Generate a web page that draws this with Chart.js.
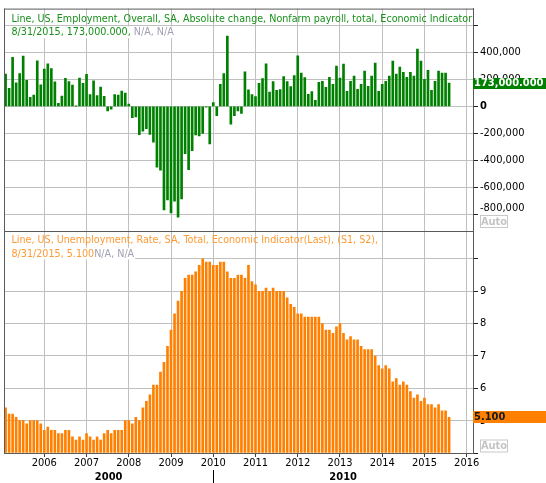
<!DOCTYPE html>
<html>
<head>
<meta charset="utf-8">
<script src="https://cdn.jsdelivr.net/npm/chart.js@4.4.0/dist/chart.umd.min.js"></script>
<style>
html,body{margin:0;padding:0;background:#ffffff;}
#wrap{width:546px;height:483px;position:relative;}
</style>
</head>
<body>
<div id="wrap"><canvas id="c" width="546" height="483"></canvas></div>
<script>
// ---------------- DATA ----------------
// first plotted month (monthly series, one value per month)
const firstMonth = { year: 2005, month: 2 };

// US nonfarm payroll, absolute monthly change (persons), Feb 2005 .. Aug 2015
const payrollChange = [
  239000, 134000, 363000, 175000, 244000, 373000, 193000, 67000, 84000, 337000, 159000,
  277000, 315000, 280000, 182000, 23000, 77000, 207000, 184000, 157000, 2000, 210000, 171000,
  238000, 88000, 190000, 80000, 143000, 75000, -34000, -20000, 88000, 84000, 114000, 98000,
  17000, -84000, -78000, -210000, -185000, -165000, -209000, -266000, -452000, -473000, -769000, -695000,
  -791000, -703000, -823000, -686000, -351000, -470000, -329000, -212000, -219000, -200000, -7000, -279000,
  28000, -69000, 163000, 243000, 522000, -133000, -70000, -34000, -52000, 257000, 123000, 88000,
  73000, 171000, 206000, 316000, 105000, 184000, 118000, 125000, 220000, 184000, 147000, 228000,
  375000, 246000, 214000, 89000, 109000, 45000, 179000, 186000, 142000, 216000, 164000, 298000,
  209000, 313000, 112000, 186000, 224000, 127000, 164000, 261000, 149000, 224000, 321000, 112000,
  164000, 186000, 224000, 335000, 239000, 291000, 253000, 216000, 253000, 224000, 425000, 335000,
  201000, 268000, 119000, 186000, 261000, 246000, 246000, 173000
];

// US unemployment rate (%), Feb 2005 .. Aug 2015
const unemploymentRate = [
  5.4, 5.2, 5.2, 5.1, 5.0, 5.0, 4.9, 5.0, 5.0, 5.0, 4.9,
  4.7, 4.8, 4.7, 4.7, 4.6, 4.6, 4.7, 4.7, 4.5, 4.4, 4.5, 4.4,
  4.6, 4.5, 4.4, 4.5, 4.4, 4.6, 4.7, 4.6, 4.7, 4.7, 4.7, 5.0,
  5.0, 4.9, 5.1, 5.0, 5.4, 5.6, 5.8, 6.1, 6.1, 6.5, 6.8, 7.3,
  7.8, 8.3, 8.7, 9.0, 9.4, 9.5, 9.5, 9.6, 9.8, 10.0, 9.9, 9.9,
  9.8, 9.8, 9.9, 9.9, 9.6, 9.4, 9.4, 9.5, 9.5, 9.4, 9.8, 9.3,
  9.2, 9.0, 9.0, 9.1, 9.0, 9.1, 9.0, 9.0, 9.0, 8.8, 8.6, 8.5,
  8.3, 8.3, 8.2, 8.2, 8.2, 8.2, 8.2, 8.0, 7.8, 7.8, 7.7, 7.9,
  8.0, 7.7, 7.5, 7.6, 7.5, 7.5, 7.3, 7.2, 7.2, 7.2, 7.0, 6.7,
  6.6, 6.7, 6.6, 6.2, 6.3, 6.1, 6.2, 6.1, 5.9, 5.7, 5.8, 5.6,
  5.7, 5.5, 5.5, 5.4, 5.5, 5.3, 5.3, 5.1
];

// tick labels
const yearTicks = [2006, 2007, 2008, 2009, 2010, 2011, 2012, 2013, 2014, 2015, 2016];
const decadeTicks = [ { label: '2000', from: 2000, to: 2010 }, { label: '2010', from: 2010, to: 2020 } ];
const payrollTicks = [-800000, -600000, -400000, -200000, 0, 200000, 400000, 600000];
const payrollHiddenLabels = [600000];
const rateTicks = [4, 5, 6, 7, 8, 9, 10];
const rateHiddenLabels = [4, 10];

// texts
const payrollTitle = 'Line, US, Employment, Overall, SA, Absolute change, Nonfarm payroll, total, Economic Indicator';
const payrollSub = ['8/31/2015, 173,000.000, ', 'N/A, N/A'];
const rateTitle = 'Line, US, Unemployment, Rate, SA, Total, Economic Indicator(Last), (S1, S2),';
const rateSub = ['8/31/2015, 5.100', 'N/A, N/A'];
const payrollLastLabel = '173,000.000';
const rateLastLabel = '5.100';
const autoLabel = 'Auto';

// ---------------- BUILD ----------------
const monthX = payrollChange.map((_, i) => {
  const m = firstMonth.month - 1 + i;
  return firstMonth.year + Math.floor(m / 12) + (m % 12) / 12;
});

const FONT = "'DejaVu Sans Condensed', 'DejaVu Sans', sans-serif";
const GREEN = '#008000';
const ORANGE = '#ff8000';
const GRID = '#c0c0c0';
const FRAME = '#5a5a5a';
const NA = '#a0a0b4';

const fmt = v => v.toLocaleString('en-US');

const overlay = {
  id: 'overlay',
  afterDraw(chart) {
    const ctx = chart.ctx;
    const a = chart.chartArea;
    const x = chart.scales.x, yP = chart.scales.yP, yR = chart.scales.yR;
    ctx.save();
    // frame lines
    ctx.strokeStyle = FRAME; ctx.lineWidth = 1;
    ctx.beginPath();
    ctx.moveTo(a.left + 0.5, a.top); ctx.lineTo(a.left + 0.5, a.bottom);
    ctx.moveTo(a.left, a.top + 0.5); ctx.lineTo(a.right, a.top + 0.5);
    const sep = Math.round(yR.top) + 0.5;
    ctx.moveTo(a.left, sep); ctx.lineTo(a.right, sep);
    ctx.stroke();

    // legends
    const baseSize = 11;
    ctx.font = baseSize + 'px ' + FONT;
    const w = ctx.measureText(payrollTitle).width;
    const size = Math.min(12, baseSize * 461 / w);
    ctx.font = size.toFixed(2) + 'px ' + FONT;
    ctx.textBaseline = 'middle';
    ctx.textAlign = 'left';
    const lx = 11.5;
    function legend(title, sub, color, y1, y2) {
      ctx.fillStyle = color;
      ctx.fillText(title, lx, y1);
      const w1 = ctx.measureText(sub[0]).width;
      const w2 = ctx.measureText(sub[1]).width;
      ctx.fillStyle = '#ffffff';
      ctx.fillRect(a.left + 1, y2 - 6, lx - a.left - 1 + w1 + w2 + 1, 11.5);
      ctx.fillStyle = color;
      ctx.fillText(sub[0], lx, y2);
      ctx.fillStyle = NA;
      ctx.fillText(sub[1], lx + w1, y2);
    }
    legend(payrollTitle, payrollSub, '#17901a', yP.top + 10.5, yP.top + 24);
    legend(rateTitle, rateSub, '#ff9a33', yR.top + 9.5, yR.top + 23);

    // -800,000 label shifted up, as in reference
    ctx.font = '11px ' + FONT;
    ctx.fillStyle = '#000';
    ctx.fillText(fmt(payrollTicks[0]), a.right + 7, yP.getPixelForValue(payrollTicks[0]) - 6);

    // last value boxes
    ctx.font = 'bold 11px ' + FONT;
    const pY = yP.getPixelForValue(payrollChange[payrollChange.length - 1]);
    ctx.fillStyle = GREEN;
    ctx.fillRect(a.right, Math.round(pY) - 5, chart.width - a.right, 11);
    ctx.fillStyle = '#ffffff';
    ctx.fillText(payrollLastLabel, a.right + 1, Math.round(pY) + 0.5);
    const rY = yR.getPixelForValue(unemploymentRate[unemploymentRate.length - 1]);
    ctx.fillStyle = ORANGE;
    ctx.fillRect(a.right, Math.round(rY) - 6, chart.width - a.right, 12);
    ctx.fillStyle = '#1a1a1a';
    ctx.fillText(rateLastLabel, a.right + 1, Math.round(rY) + 0.5);

    // Auto boxes
    function autoBox(bottom) {
      ctx.fillStyle = '#ffffff';
      ctx.fillRect(a.right + 7.5, bottom - 12.5, 27, 12);
      ctx.strokeStyle = '#c8c8c8';
      ctx.strokeRect(a.right + 7.5, bottom - 12.5, 27, 12);
      ctx.fillStyle = '#c4c4c4';
      ctx.font = 'bold 11px ' + FONT;
      ctx.textAlign = 'center';
      ctx.fillText(autoLabel, a.right + 21, bottom - 6.2);
      ctx.textAlign = 'left';
    }
    autoBox(Math.round(yP.bottom) - 3);
    autoBox(Math.round(yR.bottom) - 0.5);

    // decade labels
    ctx.font = 'bold 11px ' + FONT;
    ctx.fillStyle = '#000';
    ctx.textAlign = 'center';
    decadeTicks.forEach(d => {
      const l = Math.max(a.left, x.getPixelForValue(d.from));
      const r = Math.min(a.right, x.getPixelForValue(d.to));
      ctx.fillText(d.label, (l + r) / 2, 477.5);
    });
    ctx.strokeStyle = '#000';
    ctx.beginPath();
    decadeTicks.forEach(d => {
      const px = x.getPixelForValue(d.from);
      if (px > a.left && px < a.right) {
        ctx.moveTo(Math.round(px) + 0.5, 470); ctx.lineTo(Math.round(px) + 0.5, 483);
      }
    });
    ctx.stroke();
    ctx.restore();
  }
};

const xMin = 2005.046, xMax = 2016.149;

new Chart(document.getElementById('c'), {
  type: 'bar',
  data: {
    datasets: [
      {
        data: monthX.map((v, i) => ({ x: v, y: payrollChange[i] })),
        xAxisID: 'x', yAxisID: 'yP',
        backgroundColor: GREEN, borderWidth: 0, barThickness: 2, grouped: false
      },
      {
        data: monthX.map((v, i) => ({ x: v, y: unemploymentRate[i] })),
        xAxisID: 'x', yAxisID: 'yR', base: rateTicks[0],
        backgroundColor: ORANGE, borderWidth: 0, barThickness: 2, grouped: false
      }
    ]
  },
  options: {
    responsive: false, animation: false, devicePixelRatio: 1,
    layout: { padding: { left: 4, top: 4, right: 0, bottom: 0 } },
    plugins: { legend: { display: false }, tooltip: { enabled: false } },
    scales: {
      x: {
        type: 'linear', position: 'bottom', min: xMin, max: xMax, offset: false,
        afterBuildTicks: s => { s.ticks = yearTicks.map(v => ({ value: v })); },
        afterFit: s => { s.height = 30; },
        grid: { color: GRID, tickColor: '#404040', tickLength: 4, lineWidth: 1, offset: false },
        border: { color: FRAME, width: 1 },
        ticks: { callback: v => String(v), font: { family: FONT, size: 11 }, color: '#000', padding: 0, maxRotation: 0, autoSkip: false }
      },
      yP: {
        type: 'linear', position: 'right', stack: 'panels', stackWeight: 1,
        min: -923400, max: 725300,
        afterBuildTicks: s => { s.ticks = payrollTicks.map(v => ({ value: v })); },
        afterFit: s => { s.width = 73; },
        grid: { color: GRID, tickColor: '#202020', tickLength: 5, lineWidth: 1 },
        border: { color: FRAME, width: 1 },
        ticks: {
          callback: v => (payrollHiddenLabels.includes(v) || v === payrollTicks[0]) ? '' : fmt(v),
          font: c => ({ family: FONT, size: 11, weight: (c.tick && c.tick.value === 0) ? 'bold' : 'normal' }),
          color: '#000', padding: 2, autoSkip: false
        }
      },
      yR: {
        type: 'linear', position: 'right', stack: 'panels', stackWeight: 1,
        min: 4, max: 10.87,
        afterBuildTicks: s => { s.ticks = rateTicks.map(v => ({ value: v })); },
        afterFit: s => { s.width = 73; },
        grid: { color: GRID, tickColor: '#202020', tickLength: 5, lineWidth: 1 },
        border: { color: FRAME, width: 1 },
        ticks: {
          callback: v => rateHiddenLabels.includes(v) ? '' : String(v),
          font: { family: FONT, size: 11 }, color: '#000', padding: 2, autoSkip: false
        }
      }
    }
  },
  plugins: [overlay]
});
</script>
</body>
</html>
